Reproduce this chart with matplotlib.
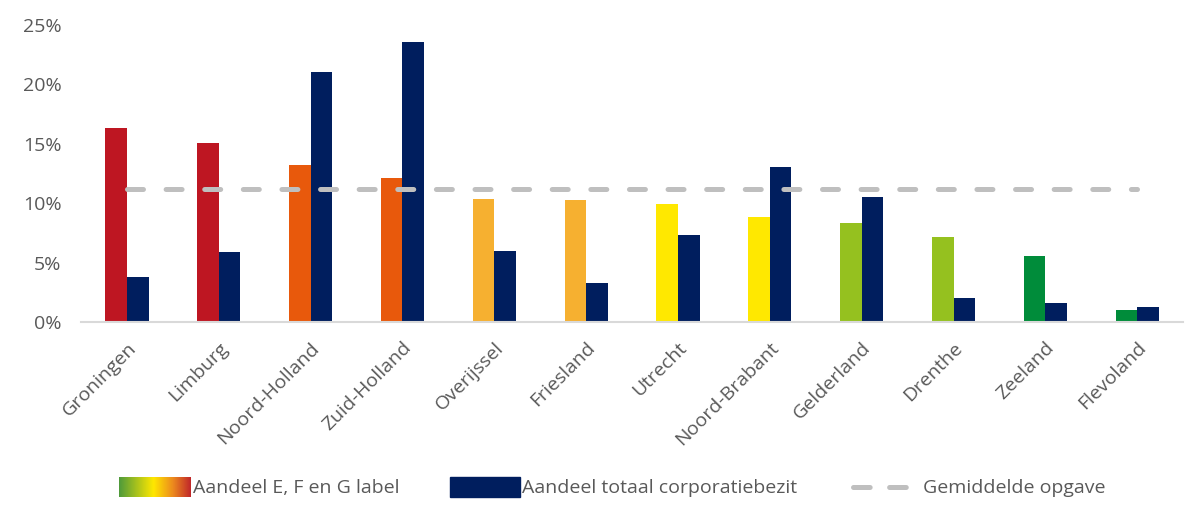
import numpy as np
import matplotlib
matplotlib.use("Agg")
import matplotlib.pyplot as plt
from matplotlib.colors import LinearSegmentedColormap
from matplotlib.patches import Rectangle
from matplotlib.lines import Line2D

plt.rcParams['font.family'] = ['Open Sans', 'DejaVu Sans']
plt.rcParams['lines.scale_dashes'] = False

provincies = ["Groningen", "Limburg", "Noord-Holland", "Zuid-Holland", "Overijssel",
              "Friesland", "Utrecht", "Noord-Brabant", "Gelderland", "Drenthe",
              "Zeeland", "Flevoland"]
aandeel_efg = [16.35, 15.1, 13.2, 12.1, 10.4, 10.3, 9.93, 8.84, 8.36, 7.13, 5.53, 1.04]
aandeel_totaal = [3.76, 5.9, 21.07, 23.6, 6.0, 3.3, 7.3, 13.07, 10.55, 2.0, 1.6, 1.29]
efg_kleuren = ["#BE1622", "#BE1622", "#E8590C", "#E8590C", "#F6B030", "#F6B030",
               "#FFE800", "#FFE800", "#95C11F", "#95C11F", "#008C3A", "#008C3A"]
gemiddelde = 11.2
yticks = [0, 5, 10, 15, 20, 25]

navy = "#001E5E"
grey_text = "#595959"
dash_grey = "#BFBFBF"


def main():
    fig = plt.figure(figsize=(12, 5.12), dpi=100)
    ax = fig.add_axes([0.0675, 0.371, 0.9185, 0.580])

    x = np.arange(len(provincies))
    w = 0.235
    ax.bar(x - w / 2, aandeel_efg, w, color=efg_kleuren, zorder=2)
    ax.bar(x + w / 2, aandeel_totaal, w, color=navy, zorder=2)

    line, = ax.plot([x[0], x[-1]], [gemiddelde, gemiddelde], color=dash_grey,
                    lw=3.6, solid_capstyle='round', dash_capstyle='round', zorder=3)
    line.set_dashes([11.5, 16.3])

    ax.set_xlim(-0.5, len(provincies) - 0.5)
    ax.set_ylim(0, 25)
    ax.set_yticks(yticks)
    ax.set_yticklabels([f"{t}%" for t in yticks])
    ax.set_xticks(x)
    ax.set_xticklabels(provincies, rotation=45, ha='right', va='top',
                       rotation_mode='anchor')
    ax.tick_params(axis='both', length=0, labelsize=14, labelcolor=grey_text)
    ax.tick_params(axis='y', pad=14)
    ax.tick_params(axis='x', pad=12)

    for s in ['top', 'right', 'left']:
        ax.spines[s].set_visible(False)
    ax.spines['bottom'].set_color("#D9D9D9")
    ax.spines['bottom'].set_linewidth(1.5)

    # legend, drawn by hand
    cmap = LinearSegmentedColormap.from_list(
        "efg", [(0, "#4E9A3B"), (0.48, "#FFE800"), (0.75, "#EC8A1E"), (1, "#C0262A")])
    lax = fig.add_axes([119 / 1200, 1 - 497 / 512, 72 / 1200, 20 / 512])
    lax.imshow(np.linspace(0, 1, 256)[None, :], aspect='auto', cmap=cmap)
    lax.axis('off')
    fig.text(193 / 1200, 1 - 488 / 512, "Aandeel E, F en G label",
             fontsize=14, color=grey_text, va='center', ha='left')

    fig.patches.append(Rectangle((450 / 1200, 1 - 497 / 512), 70 / 1200, 20 / 512,
                                 transform=fig.transFigure, color=navy))
    fig.text(522 / 1200, 1 - 488 / 512, "Aandeel totaal corporatiebezit",
             fontsize=14, color=grey_text, va='center', ha='left')

    leg_line = Line2D([853 / 1200, 909 / 1200], [1 - 487 / 512, 1 - 487 / 512],
                      transform=fig.transFigure, color=dash_grey, lw=3.6,
                      dash_capstyle='round')
    leg_line.set_dashes([12, 14])
    fig.lines.append(leg_line)
    fig.text(923 / 1200, 1 - 488 / 512, "Gemiddelde opgave",
             fontsize=14, color=grey_text, va='center', ha='left')

    fig.savefig("out.png", dpi=100)


if __name__ == '__main__':
    main()
